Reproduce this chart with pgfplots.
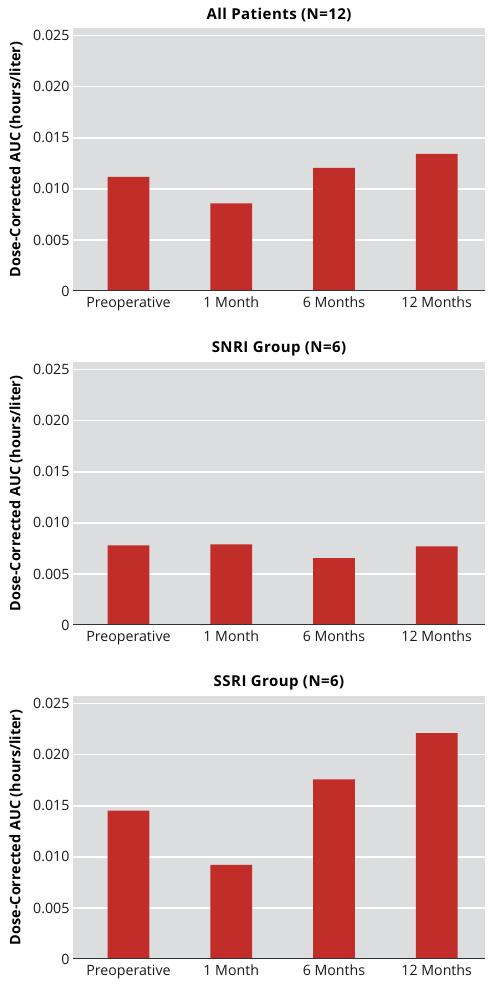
\documentclass[border=0pt]{standalone}
\usepackage{pgfplots}
\pgfplotsset{compat=1.18}
\usepackage{fontspec}
\setmainfont{Open Sans}
\newfontfamily\titlefont[LetterSpace=3]{Open Sans}
\definecolor{bgray}{HTML}{DCDDDF}
\definecolor{barred}{HTML}{C12D28}
\definecolor{axdark}{HTML}{333333}
\pgfplotsset{
  panel/.style={
    scale only axis, width=412pt, height=263.3pt,
    anchor=south west,
    xmin=-0.54, xmax=3.47, ymin=0, ymax=0.0258,
    axis background/.style={fill=bgray},
    axis line style={draw=none},
    major tick length=0pt,
    ymajorgrids, grid style={white, line width=1.2pt},
    xtick={0,1,2,3},
    xticklabels={Preoperative,1 Month,6 Months,12 Months},
    ytick={0,0.005,0.01,0.015,0.02,0.025},
    yticklabels={0,0.005,0.010,0.015,0.020,0.025},
    scaled y ticks=false,
    tick label style={font=\fontsize{14.2}{16}\selectfont, color=black!90},
    xticklabel style={yshift=-2.5pt},
    yticklabel style={xshift=0pt},
    title style={font=\titlefont\bfseries\fontsize{15}{17}\selectfont, yshift=-4pt},
    ylabel={Dose-Corrected AUC (hours/liter)},
    ylabel style={font=\bfseries\fontsize{14.4}{16}\selectfont, at={(axis description cs:-0.1383,0.5)}, anchor=center},
    ybar, bar width=41.6pt,
  },
  barsty/.style={fill=barred, draw=none},
}
\begin{document}
\begin{tikzpicture}[x=1pt,y=1pt]
\path[use as bounding box] (0,0) rectangle (494,988);
\begin{axis}[panel, at={(73pt,697pt)}, title={All Patients (N=12)}]
\addplot[barsty] coordinates {(0,0.01118) (1,0.00859) (2,0.01206) (3,0.01343)};
\draw[axdark, line width=2pt] (rel axis cs:0,0) -- (rel axis cs:1,0);
\end{axis}
\begin{axis}[panel, at={(73pt,363pt)}, title={SNRI Group (N=6)}]
\addplot[barsty] coordinates {(0,0.0078) (1,0.0079) (2,0.00656) (3,0.0077)};
\draw[axdark, line width=2pt] (rel axis cs:0,0) -- (rel axis cs:1,0);
\end{axis}
\begin{axis}[panel, at={(73pt,29pt)}, title={SSRI Group (N=6)}]
\addplot[barsty] coordinates {(0,0.01454) (1,0.00922) (2,0.0176) (3,0.02213)};
\draw[axdark, line width=2pt] (rel axis cs:0,0) -- (rel axis cs:1,0);
\end{axis}
\end{tikzpicture}
\end{document}
